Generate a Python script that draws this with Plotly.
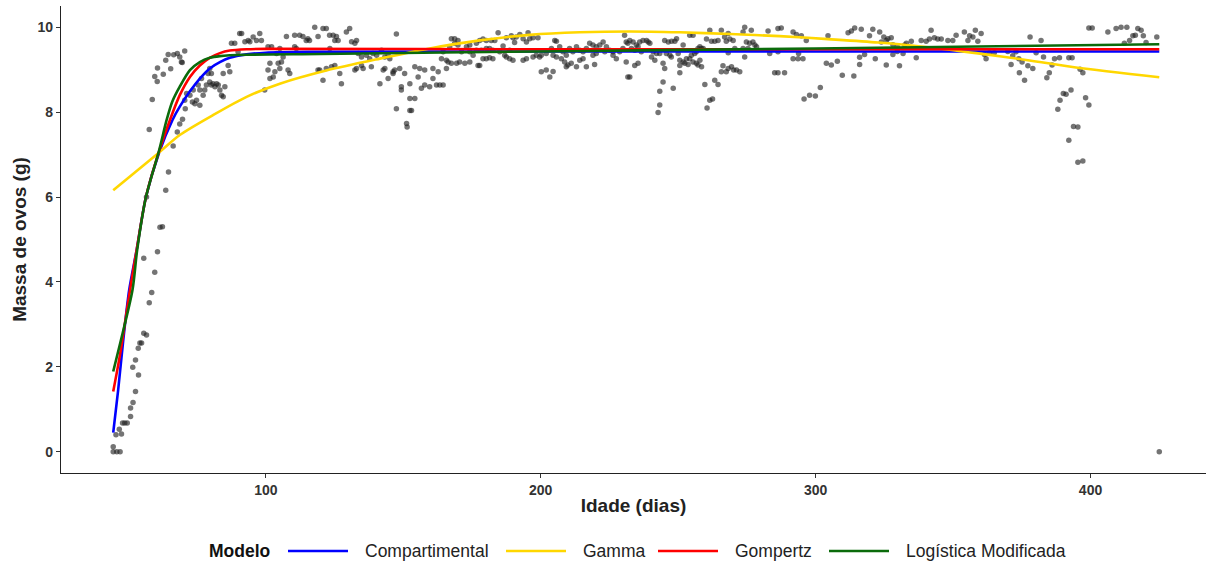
import plotly.graph_objects as go

# Observed egg mass (g) by hen age (days)
idade = [
    44.5, 44.5, 45.8, 47.0, 45.5, 47.5, 46.7, 47.9, 48.7, 49.6, 50.8, 50.8, 51.7, 52.6, 53.7, 51.6,
    52.6, 53.6, 54.2, 54.8, 55.6, 56.6, 57.6, 58.5, 59.6, 60.6, 55.6, 61.5, 62.4, 56.6, 63.6, 64.6,
    66.3, 67.8, 57.6, 68.7, 69.7, 70.7, 58.7, 59.6, 60.5, 62.7, 60.6, 65.4, 63.6, 69.6, 64.5, 66.5,
    67.8, 68.7, 70.5, 69.3, 70.5,
    73.3, 74.2, 74.8, 76.0, 77.2, 77.8, 78.4, 79.6, 80.2, 80.8, 81.5, 82.1, 82.7, 83.3, 83.9, 84.5,
    85.1, 76.6, 79.0, 79.6, 80.2, 75.4, 76.0, 73.6, 72.4, 71.2, 86.3, 86.9, 84.5,
    87.5, 88.7, 90.5, 91.2, 92.4, 93.6, 94.2, 95.4, 96.6, 97.8, 98.4, 89.9, 99.6,
    100.8, 101.5, 102.7, 103.3, 104.5, 105.1, 105.7, 106.3, 108.1, 108.7, 101.5,
    100.8, 102.1, 103.9, 105.1, 107.5, 110.5, 112.3, 113.5, 114.7, 115.3, 115.9, 117.8, 119.0,
    120.8, 122.0, 123.2, 110.5, 111.1, 119.0, 119.6, 122.0, 120.8,
    124.5, 125.7, 126.3, 125.1, 129.3, 130.5, 131.2, 132.4, 133.0, 123.3, 123.9, 125.1, 126.9, 127.5,
    133.0, 132.4, 134.8, 135.4, 133.6, 134.8, 136.6, 137.8, 139.0, 140.3, 142.1, 143.3, 144.5, 145.1,
    138.4, 142.7, 143.3, 146.3, 146.9, 148.7, 141.5, 144.5, 146.3, 150.5, 147.5,
    149.3, 152.4, 154.2, 155.4, 156.0, 157.8, 156.6, 157.8, 159.6, 160.8, 162.1, 163.3, 164.5, 160.8,
    162.7, 163.9, 165.7, 166.3, 149.3, 152.4, 154.2, 147.5, 152.4, 153.0, 151.2, 151.4,
    164.5, 166.9, 168.7, 169.9, 167.5, 168.7, 169.9, 171.2, 173.0, 174.2, 175.4, 176.6, 165.7, 167.5,
    169.4, 170.5, 172.4, 174.2, 177.2, 174.2, 176.6,
    184.5, 189.3, 192.4, 195.4, 197.2, 199.0, 187.5, 189.9, 191.1, 193.6, 196.0,
    177.8, 179.0, 180.2, 182.0, 183.3, 186.3, 190.5, 194.8,
    178.4, 180.2, 181.4, 182.6, 185.1, 186.9, 188.7,
    179.0, 180.2, 181.4, 182.6, 187.5, 188.7, 189.9, 193.6, 194.8, 197.2, 198.4, 199.6, 177.8,
    200.2, 202.0, 203.3, 204.5,
    203.9, 205.1, 205.7, 206.9, 208.1, 209.3, 210.5, 211.7, 213.0, 214.2, 215.4, 216.6, 217.8, 219.0,
    220.2, 221.5, 222.7, 223.9, 225.1, 226.3, 227.5, 228.7, 229.9, 230.5, 231.1, 231.7,
    205.7, 207.5, 208.7, 209.3, 209.9, 211.1, 213.0, 214.2, 215.4, 216.6, 219.6, 219.0, 220.2, 223.3,
    226.3, 200.2, 202.0, 204.5, 231.1, 231.7,
    232.4, 233.6, 234.8, 236.0, 237.2, 238.5, 239.7, 239.1, 232.4,
    233.0, 234.2, 235.4, 236.6, 240.9, 242.1, 243.3, 240.3, 241.5, 244.5, 245.7, 247.0, 247.5,
    234.2, 235.4, 245.1,
    245.1, 246.4, 247.6, 248.8, 249.4, 251.8, 254.2, 255.4, 260.3, 261.5, 262.1, 263.3, 264.5, 265.7,
    266.9, 268.2, 267.5, 268.8, 270.0,
    250.0, 250.6, 251.8, 252.4, 253.0, 254.2, 254.8, 256.0, 256.6, 257.2, 257.9, 258.5, 259.1, 250.6,
    253.6, 255.4, 256.6, 257.9, 258.5, 257.2,
    244.5, 243.3, 248.2, 250.6, 243.3, 242.7, 259.7, 263.3, 264.5, 261.5, 262.5, 260.5,
    266.3, 268.2, 269.4, 270.2, 271.2, 272.4, 265.7, 267.5, 268.2, 270.6,
    274.2, 276.6, 273.6, 274.8, 276.0, 277.2, 277.9, 278.5, 273.6, 275.4, 274.2, 282.7, 286.3, 283.3,
    286.3, 285.1, 286.3,
    287.5, 291.8, 293.0, 294.8, 296.6, 304.5, 311.8, 313.0, 314.2, 316.6, 320.8, 319.6, 323.3, 324.8,
    326.3, 327.5, 323.9, 325.7,
    291.8, 293.6, 295.4, 293.8, 303.9, 305.7, 307.9, 316.0, 317.8, 321.7, 316.0,
    288.7, 309.7, 313.9, 301.7, 297.8, 299.9, 295.8,
    325.7, 330.5, 328.1, 329.7, 331.8, 329.7, 333.0, 334.8, 336.6, 338.4, 340.2, 332.4, 328.1,
    342.0, 341.4, 343.2, 344.4, 345.7, 348.1, 349.9, 351.1, 354.1, 355.4, 356.0, 357.2, 358.1, 359.0,
    360.2, 361.4, 362.0, 363.2, 365.0, 369.9, 371.7, 372.9,
    371.1, 374.1, 376.0, 375.1, 377.2, 379.0, 373.9,
    378.0, 382.0, 380.2, 382.9, 386.9, 386.0, 385.0, 384.1, 392.1,
    390.1, 391.1, 392.9, 388.9, 388.1, 393.8, 392.1,
    388.7, 393.3, 396.2, 397.2, 398.2, 399.4, 395.4, 395.4, 397.2,
    399.4, 400.6, 406.3, 409.3, 411.1, 413.2, 417.2, 418.4, 415.4, 416.3, 419.2, 424.1, 414.2, 412.3,
    420.2, 425.0,
]
massa = [
    0.12, 0.00, 0.00, 0.00, 0.40, 0.42, 0.53, 0.68, 0.68, 0.68, 0.83, 1.03, 1.16, 1.42, 1.81, 1.99,
    2.16, 2.44, 2.56, 2.56, 2.79, 2.75, 3.51, 3.75, 4.23, 4.71, 4.56, 5.29, 5.30, 6.00, 6.16, 6.59,
    7.20, 7.53, 7.59, 7.72, 7.83, 8.08, 8.30, 8.84, 8.72, 8.89, 9.04, 9.02, 9.22, 9.17, 9.36, 9.35,
    9.38, 9.30, 9.44, 9.18, 8.28,
    8.24, 8.20, 8.28, 8.16, 8.40, 8.52, 8.64, 8.71, 8.64, 8.67, 8.60, 8.67, 8.64, 8.52, 8.40, 8.36,
    8.60, 8.79, 8.91, 9.03, 8.91, 8.64, 8.52, 8.52, 8.40, 8.44, 9.10, 8.95, 8.91,
    9.62, 9.62, 9.85, 9.85, 9.66, 9.69, 9.66, 9.77, 9.69, 9.85, 9.69, 9.42, 8.52,
    8.99, 8.79, 8.83, 8.95, 9.15, 9.03, 9.18, 9.30, 8.99, 8.91, 9.15,
    9.54, 9.54, 9.38, 9.50, 9.78, 9.81, 9.81, 9.78, 9.69, 9.73, 9.69, 10.00, 9.78,
    9.97, 9.97, 9.81, 9.54, 9.50, 8.99, 8.99, 9.03, 8.75,
    9.81, 9.78, 9.69, 9.69, 9.89, 9.97, 9.66, 9.62, 9.69, 9.50, 9.07, 9.10, 8.91, 8.67,
    9.03, 8.99, 9.10, 9.03, 9.38, 9.30, 9.34, 9.26, 9.38, 9.34, 9.46, 9.30, 9.34, 9.26,
    9.07, 8.99, 9.03, 8.95, 8.99, 9.03, 8.67, 8.79, 8.91, 8.91, 9.84,
    8.60, 8.67, 9.07, 8.83, 9.03, 8.99, 8.56, 8.64, 8.60, 8.79, 8.64, 8.64, 8.64, 9.03,
    8.95, 9.26, 9.03, 9.18, 8.52, 8.32, 8.32, 8.08, 8.04, 8.04, 7.73, 7.65,
    9.42, 9.54, 9.62, 9.58, 9.73, 9.73, 9.69, 9.42, 9.54, 9.42, 9.34, 9.46, 9.22, 9.15,
    9.15, 9.18, 9.15, 9.18, 9.10, 9.58, 9.62,
    9.87, 9.80, 9.83, 9.87, 9.75, 9.75, 9.75, 9.75, 9.77, 9.73, 9.73,
    9.69, 9.72, 9.69, 9.69, 9.69, 9.56, 9.64, 9.65,
    9.46, 9.50, 9.50, 9.46, 9.42, 9.34, 9.46,
    9.26, 9.26, 9.28, 9.26, 9.30, 9.26, 9.22, 9.22, 9.26, 9.30, 9.34, 9.30, 9.10,
    8.95, 8.99, 8.83, 8.96,
    9.50, 9.69, 9.67, 9.54, 9.42, 9.34, 9.50, 9.42, 9.54, 9.46, 9.42, 9.50, 9.62, 9.58,
    9.54, 9.58, 9.65, 9.54, 9.46, 9.42, 9.26, 9.42, 9.50, 9.81, 9.65, 9.62,
    9.30, 9.26, 9.18, 9.07, 9.11, 9.15, 9.07, 9.22, 9.26, 9.07, 9.12, 9.34, 9.38, 9.42,
    9.34, 9.34, 9.38, 9.34, 9.18, 8.83,
    9.69, 9.65, 9.58, 9.65, 9.69, 9.69, 9.62, 9.65, 8.83,
    9.50, 9.46, 9.54, 9.42, 9.42, 9.38, 9.38, 9.30, 9.22, 9.15, 9.38, 9.34, 9.30,
    9.10, 9.15, 9.03,
    9.69, 9.65, 9.67, 9.67, 9.73, 9.58, 9.81, 9.81, 9.72, 9.93, 9.67, 9.67, 9.69, 9.93,
    9.77, 9.85, 9.67, 9.72, 9.69,
    9.38, 9.22, 9.18, 9.15, 9.26, 9.26, 9.34, 9.38, 9.42, 9.50, 9.54, 9.50, 9.50, 9.10,
    9.12, 9.18, 9.15, 9.22, 9.07, 9.11,
    8.71, 8.49, 8.56, 8.93, 8.17, 7.99, 8.65, 8.75, 8.65, 8.28, 8.31, 8.10,
    9.09, 9.03, 9.07, 8.99, 8.99, 8.95, 8.95, 8.95, 9.40, 9.50,
    10.00, 9.93, 9.89, 9.65, 9.62, 9.65, 9.58, 9.54, 9.50, 9.50, 9.30, 9.91, 9.97, 9.38,
    9.42, 8.93, 8.93,
    9.98, 9.89, 9.83, 9.80, 9.69, 9.80, 9.87, 9.91, 9.98, 9.95, 9.95, 9.80, 9.89, 9.77,
    9.73, 9.75, 9.65, 9.69,
    9.26, 9.26, 9.26, 9.38, 9.15, 9.11, 9.20, 9.29, 9.36, 9.26, 9.12,
    8.93, 8.87, 8.85, 8.58, 8.40, 8.38, 8.31,
    9.11, 9.09, 9.36, 9.43, 9.38, 9.54, 9.62, 9.67, 9.28, 9.69, 9.67, 9.58, 9.59,
    9.93, 9.72, 9.75, 9.72, 9.72, 9.69, 9.69, 9.81, 9.89, 9.69, 9.80, 9.77, 9.93, 9.67,
    9.85, 9.36, 9.26, 9.40, 9.40, 9.43, 9.33, 9.42,
    9.12, 8.93, 8.75, 9.18, 9.09, 9.03, 9.26,
    9.77, 9.69, 9.40, 9.30, 9.26, 9.11, 8.93, 8.81, 9.28,
    8.44, 8.42, 8.52, 8.28, 8.07, 7.66, 7.34,
    9.28, 9.28, 9.01, 8.93, 8.34, 8.17, 7.65, 6.82, 6.85,
    9.98, 9.98, 9.89, 9.97, 10.00, 10.00, 9.97, 9.93, 9.80, 9.81, 9.80, 9.77, 9.69, 9.62,
    9.64, 0.00,
]

# Fitted model curves (age, predicted egg mass)
comp_x = [44.5, 46.3, 48.1, 50.3, 53.0, 56.4, 61.2, 66.1, 68.7, 72.4, 76.0, 79.6, 83.3, 86.9,
          93.0, 100.0, 115.0, 200.0, 300.0, 425.0]
comp_y = [0.45, 1.46, 2.60, 3.81, 4.75, 6.00, 7.05, 7.82, 8.13, 8.49, 8.79, 9.03, 9.18, 9.28,
          9.36, 9.40, 9.42, 9.43, 9.43, 9.43]

gamma_x = [44.5, 61.2, 68.7, 80.8, 93.0, 105.1, 122.0, 141.5, 159.6, 177.8, 196.0, 214.2, 232.4,
           250.6, 268.8, 286.9, 304.5, 322.7, 340.9, 358.4, 376.6, 394.7, 425.0]
gamma_y = [6.16, 7.05, 7.46, 7.93, 8.36, 8.67, 8.98, 9.26, 9.50, 9.69, 9.82, 9.88, 9.90,
           9.88, 9.84, 9.79, 9.72, 9.64, 9.53, 9.39, 9.23, 9.05, 8.82]

gomp_x = [44.5, 47.0, 50.6, 53.0, 56.4, 61.2, 65.1, 68.7, 72.4, 76.0, 79.6, 83.3, 86.9, 93.0,
          100.0, 200.0, 300.0, 425.0]
gomp_y = [1.42, 2.30, 3.81, 4.75, 6.00, 7.08, 7.81, 8.40, 8.83, 9.10, 9.28, 9.39, 9.45, 9.48,
          9.49, 9.48, 9.48, 9.48]

logi_x = [44.5, 47.0, 51.5, 53.2, 56.4, 61.2, 63.9, 66.0, 68.7, 72.4, 76.0, 79.6, 83.3, 93.0,
          120.0, 200.0, 300.0, 425.0]
logi_y = [1.89, 2.55, 3.81, 4.75, 6.00, 7.10, 7.81, 8.25, 8.60, 8.99, 9.18, 9.28, 9.32, 9.35,
          9.37, 9.43, 9.50, 9.60]

modelos = ["Compartimental", "Gamma", "Gompertz", "Logística Modificada"]
cores = ["#0000FF", "#FFD700", "#FF0000", "#0B6B0B"]
curvas = [(comp_x, comp_y), (gamma_x, gamma_y), (gomp_x, gomp_y), (logi_x, logi_y)]

FONT = "Liberation Sans, Arial, sans-serif"
W, H = 1211, 563
ML, MR, MT, MB = 61, 5, 6, 90
PW, PH = W - ML - MR, H - MT - MB


def px_to_paper(px, py):
    """Convert page pixel coordinates to paper coordinates."""
    return (px - ML) / PW, (H - MB - py) / PH


fig = go.Figure()
fig.add_trace(go.Scatter(
    x=idade, y=massa, mode="markers", showlegend=False,
    marker=dict(size=5.5, color="rgba(30,30,30,0.62)", line=dict(width=0)),
    hoverinfo="x+y",
))
for nome, cor, (cx, cy) in zip(modelos, cores, curvas):
    fig.add_trace(go.Scatter(
        x=cx, y=cy, mode="lines", name=nome, showlegend=False,
        line=dict(color=cor, width=2.6, shape="spline", smoothing=0.8),
    ))

# Legend drawn below the plot: bold title, then a line key and label per model
leg_y = 551
shapes, annotations = [], []
tx, ty = px_to_paper(207, leg_y)
annotations.append(dict(text="<b>Modelo</b>", x=tx, y=ty, xref="paper", yref="paper",
                        xanchor="left", yanchor="middle", showarrow=False,
                        font=dict(family=FONT, size=17.5, color="#111")))
key_starts = [288, 506, 658, 829]
for nome, cor, x0 in zip(modelos, cores, key_starts):
    a0, yy = px_to_paper(x0, leg_y)
    a1, _ = px_to_paper(x0 + 60, leg_y)
    shapes.append(dict(type="line", xref="paper", yref="paper", x0=a0, x1=a1, y0=yy, y1=yy,
                       line=dict(color=cor, width=2.6)))
    lx, _ = px_to_paper(x0 + 75, leg_y)
    annotations.append(dict(text=nome, x=lx, y=yy, xref="paper", yref="paper",
                            xanchor="left", yanchor="middle", showarrow=False,
                            font=dict(family=FONT, size=17.5, color="#222")))

eixo = dict(
    showgrid=False, zeroline=False, showline=True, linecolor="#222", linewidth=1.3,
    ticks="outside", ticklen=4, tickwidth=1.1, tickcolor="#333",
    tickfont=dict(family=FONT, size=14, color="#333", weight="bold"),
)

fig.update_layout(
    width=W, height=H,
    margin=dict(l=ML, r=MR, t=MT, b=MB, autoexpand=False),
    paper_bgcolor="white", plot_bgcolor="white",
    font=dict(family=FONT, color="#111"),
    showlegend=False,
    shapes=shapes, annotations=annotations,
    xaxis=dict(eixo, range=[25.5, 442], tickvals=[100, 200, 300, 400],
               title=dict(text="Idade (dias)", standoff=1,
                          font=dict(family=FONT, size=19, color="#222", weight="bold"))),
    yaxis=dict(eixo, range=[-0.5, 10.5], tickvals=[0, 2, 4, 6, 8, 10],
               title=dict(text="Massa de ovos (g)", standoff=5,
                          font=dict(family=FONT, size=19, color="#222", weight="bold"))),
)

fig.write_html("out.html")
